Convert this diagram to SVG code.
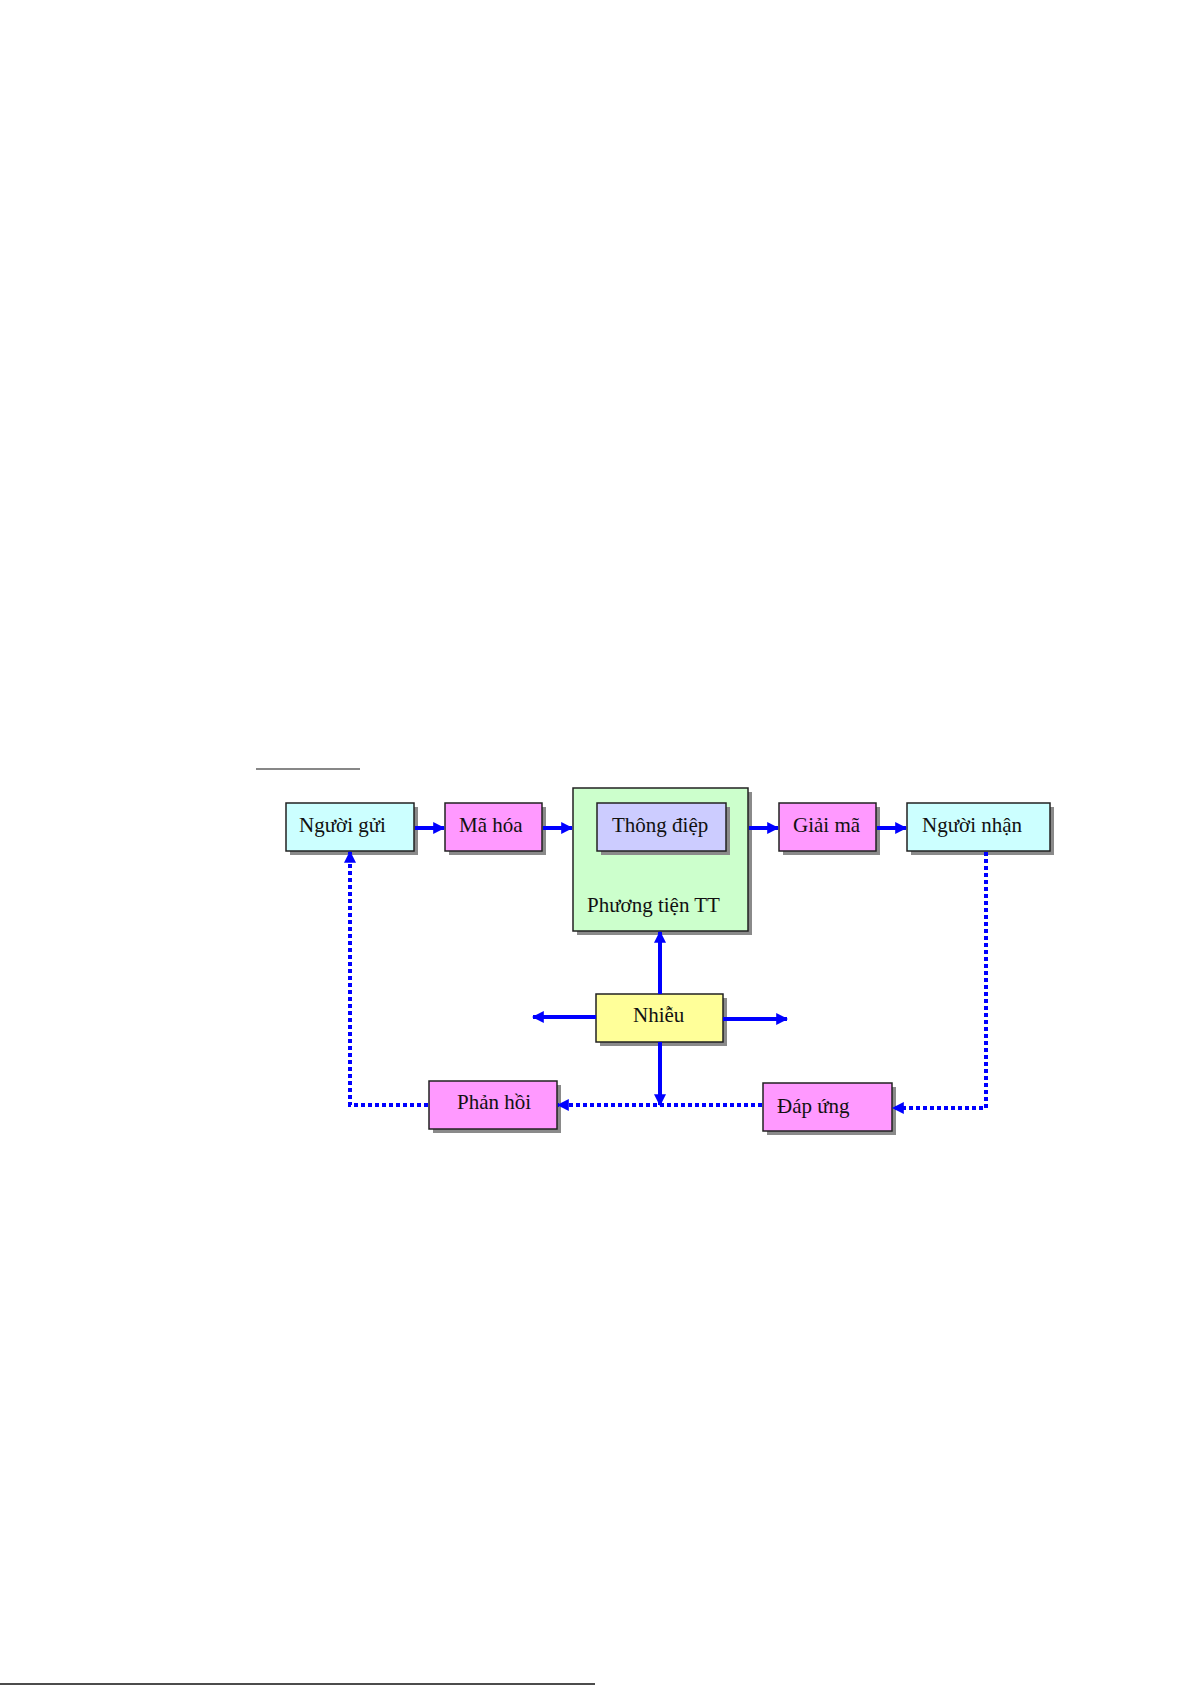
<svg xmlns="http://www.w3.org/2000/svg" width="1191" height="1685" viewBox="0 0 1191 1685">
<style>
.box{stroke:#222;stroke-width:1.5}
.sh{fill:#8a8a8a}
.t{font-family:"Liberation Serif","Times New Roman",serif;font-size:21px;fill:#111}
.s{stroke:#0000ff;stroke-width:4;fill:none}
.d{stroke:#0000ff;stroke-width:4;fill:none;stroke-dasharray:4 3}
</style>
<defs>
<marker id="ah" viewBox="0 0 10 10" refX="9" refY="5" markerWidth="3" markerHeight="3" orient="auto" markerUnits="strokeWidth">
<path d="M0,0 L10,5 L0,10 z" fill="#0000ff"/>
</marker>
</defs>
<rect width="1191" height="1685" fill="#fff"/>
<line x1="256" y1="769" x2="360" y2="769" stroke="#111" stroke-width="1.2"/>
<line x1="0" y1="1684" x2="595" y2="1684" stroke="#111" stroke-width="1.5"/>

<g id="nguoi-gui"><rect class="sh" x="290" y="807" width="128" height="48"/><rect class="box" x="286" y="803" width="128" height="48" fill="#ccffff"/><text class="t" x="299" y="832">Người gửi</text></g>
<g id="ma-hoa"><rect class="sh" x="449" y="807" width="97" height="48"/><rect class="box" x="445" y="803" width="97" height="48" fill="#ff99ff"/><text class="t" x="459" y="832">Mã hóa</text></g>
<g id="phuong-tien"><rect class="sh" x="577" y="792" width="175" height="143"/><rect class="box" x="573" y="788" width="175" height="143" fill="#ccffcc"/><text class="t" x="587" y="912">Phương tiện TT</text></g>
<g id="thong-diep"><rect class="sh" x="601" y="807" width="129" height="48"/><rect class="box" x="597" y="803" width="129" height="48" fill="#ccccff"/><text class="t" x="612" y="832">Thông điệp</text></g>
<g id="giai-ma"><rect class="sh" x="783" y="807" width="97" height="48"/><rect class="box" x="779" y="803" width="97" height="48" fill="#ff99ff"/><text class="t" x="793" y="832">Giải mã</text></g>
<g id="nguoi-nhan"><rect class="sh" x="911" y="807" width="143" height="48"/><rect class="box" x="907" y="803" width="143" height="48" fill="#ccffff"/><text class="t" x="922" y="832">Người nhận</text></g>
<g id="nhieu"><rect class="sh" x="600" y="998" width="127" height="48"/><rect class="box" x="596" y="994" width="127" height="48" fill="#ffff99"/><text class="t" x="633" y="1022">Nhiễu</text></g>
<g id="phan-hoi"><rect class="sh" x="433" y="1085" width="128" height="48"/><rect class="box" x="429" y="1081" width="128" height="48" fill="#ff99ff"/><text class="t" x="457" y="1109">Phản hồi</text></g>
<g id="dap-ung"><rect class="sh" x="767" y="1087" width="129" height="48"/><rect class="box" x="763" y="1083" width="129" height="48" fill="#ff99ff"/><text class="t" x="777" y="1113">Đáp ứng</text></g>

<g id="connectors">
<line class="s" x1="415" y1="828" x2="444" y2="828" marker-end="url(#ah)"/>
<line class="s" x1="543" y1="828" x2="572" y2="828" marker-end="url(#ah)"/>
<line class="s" x1="749" y1="828" x2="778" y2="828" marker-end="url(#ah)"/>
<line class="s" x1="877" y1="828" x2="906" y2="828" marker-end="url(#ah)"/>
<line class="s" x1="660" y1="994" x2="660" y2="932" marker-end="url(#ah)"/>
<line class="s" x1="596" y1="1017" x2="533" y2="1017" marker-end="url(#ah)"/>
<line class="s" x1="723" y1="1019" x2="787" y2="1019" marker-end="url(#ah)"/>
<line class="s" x1="660" y1="1042" x2="660" y2="1105" marker-end="url(#ah)"/>
<polyline class="d" points="986,852 986,1108 893,1108" marker-end="url(#ah)"/>
<line class="d" x1="762" y1="1105" x2="558" y2="1105" marker-end="url(#ah)"/>
<polyline class="d" points="428,1105 350,1105 350,852" marker-end="url(#ah)"/>
</g>
</svg>
